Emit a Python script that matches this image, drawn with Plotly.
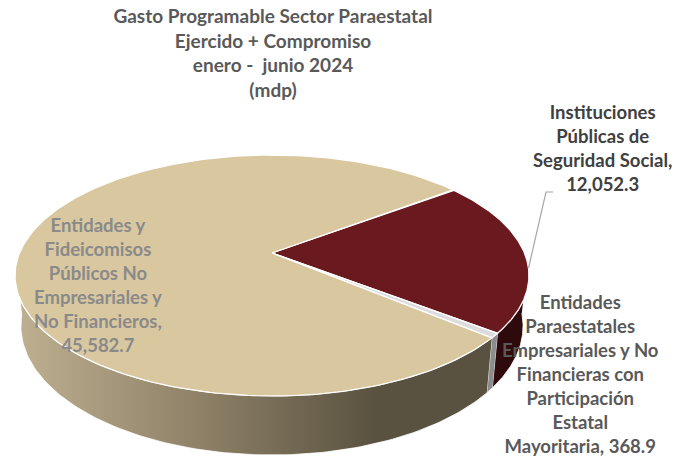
import numpy as np
import plotly.graph_objects as go

# Data
categories = [
    "Instituciones<br>Públicas de<br>Seguridad Social,",
    "Entidades<br>Paraestatales<br>Empresariales y No<br>Financieras con<br>Participación<br>Estatal<br>Mayoritaria,",
    "Entidades y<br>Fideicomisos<br>Públicos No<br>Empresariales y<br>No Financieros,",
]
values = [12052.3, 368.9, 45582.7]
value_breaks = ["<br>", " ", "<br>"]
title_lines = ["Gasto Programable Sector Paraestatal", "Ejercido + Compromiso", "enero -  junio 2024", "(mdp)"]

top_colors = ["#6a191e", "#dcdcdc", "#d9c7a0"]
wall_colors = ["#2e0a0c", "#8c8c8c", None]
label_colors = ["#404040", "#595959", "#8a8a8a"]
label_pos = [(602, 148), (580, 374), (98, 285)]

# Pie projection (pixels)
W, H = 687, 457
CX, CY = 272, 253
FAR, NEAR, RX = 98.0, 143.0, 257.0
c = (NEAR - FAR) / (NEAR + FAR)
a = FAR * (1 + c)
d = RX * np.sqrt(1 - c * c)
START = 52.9
WALL_MIN, WALL_MAX = 95.0, 265.0
KX, KY, DY = 0.977, 1.07, 49.0


def top(theta):
    t = np.radians(theta)
    u, v = np.sin(t), np.cos(t)
    w = 1 + c * v
    return CX + d * u / w, CY - a * v / w


def bottom(theta):
    x, y = top(theta)
    return CX + (x - CX) * KX, CY + DY + (y - CY) * KY


fig = go.Figure()
total = sum(values)
spans = []
ang = START
for val in values:
    spans.append((ang, ang + 360 * val / total))
    ang += 360 * val / total

# side walls
for (s, e), col in zip(spans, wall_colors):
    lo, hi = max(s, WALL_MIN), min(e, WALL_MAX)
    th = np.linspace(lo, hi, 120)
    xt, yt = top(th)
    xb, yb = bottom(th[::-1])
    kw = dict(fillcolor=col) if col else dict(
        fillgradient=dict(
            type="horizontal",
            start=15, stop=375,
            colorscale=[[0, "#bfb091"], [0.5, "#8f8268"], [1, "#5a5240"]],
        )
    )
    fig.add_trace(go.Scatter(
        x=np.r_[xt, xb], y=np.r_[yt, yb], mode="lines", fill="toself",
        line=dict(color="#ffffff", width=0.8), hoverinfo="skip", showlegend=False, **kw,
    ))

# top faces
for (s, e), col in zip(spans, top_colors):
    th = np.linspace(s, e, 240)
    x, y = top(th)
    fig.add_trace(go.Scatter(
        x=np.r_[CX, x, CX], y=np.r_[CY, y, CY], mode="lines", fill="toself",
        fillcolor=col, line=dict(color="#ffffff", width=1.3),
        hoverinfo="skip", showlegend=False,
    ))

# leader line of the first slice
lx, ly = top((spans[0][0] + spans[0][1]) / 2 + 7)
fig.add_trace(go.Scatter(
    x=[lx, 546, 553], y=[ly, 192, 192], mode="lines",
    line=dict(color="#a6a6a6", width=1.2), hoverinfo="skip", showlegend=False,
))

FONT = "Lato"
for cat, val, sep, col, (px, py) in zip(categories, values, value_breaks, label_colors, label_pos):
    fig.add_annotation(
        x=px, y=py, xref="x", yref="y", text=f"<b>{cat}{sep}{val:,.1f}</b>",
        showarrow=False, align="center", xanchor="center", yanchor="middle",
        font=dict(family=FONT, size=18.5, color=col),
    )

fig.update_layout(
    width=W, height=H, margin=dict(l=0, r=0, t=0, b=0),
    paper_bgcolor="#ffffff", plot_bgcolor="#ffffff",
    xaxis=dict(range=[0, W], visible=False, fixedrange=True),
    yaxis=dict(range=[H, 0], visible=False, fixedrange=True),
    title=dict(
        text="<b>" + "<br>".join(title_lines) + "</b>",
        x=273 / W, xanchor="center", y=1 - 23 / H, yanchor="middle",
        font=dict(family=FONT, size=19, color="#595959"),
    ),
)
fig.write_html(
    "out.html",
    config={"displayModeBar": False},
    post_script="document.body.style.margin='0';document.documentElement.style.overflow='hidden';",
)
